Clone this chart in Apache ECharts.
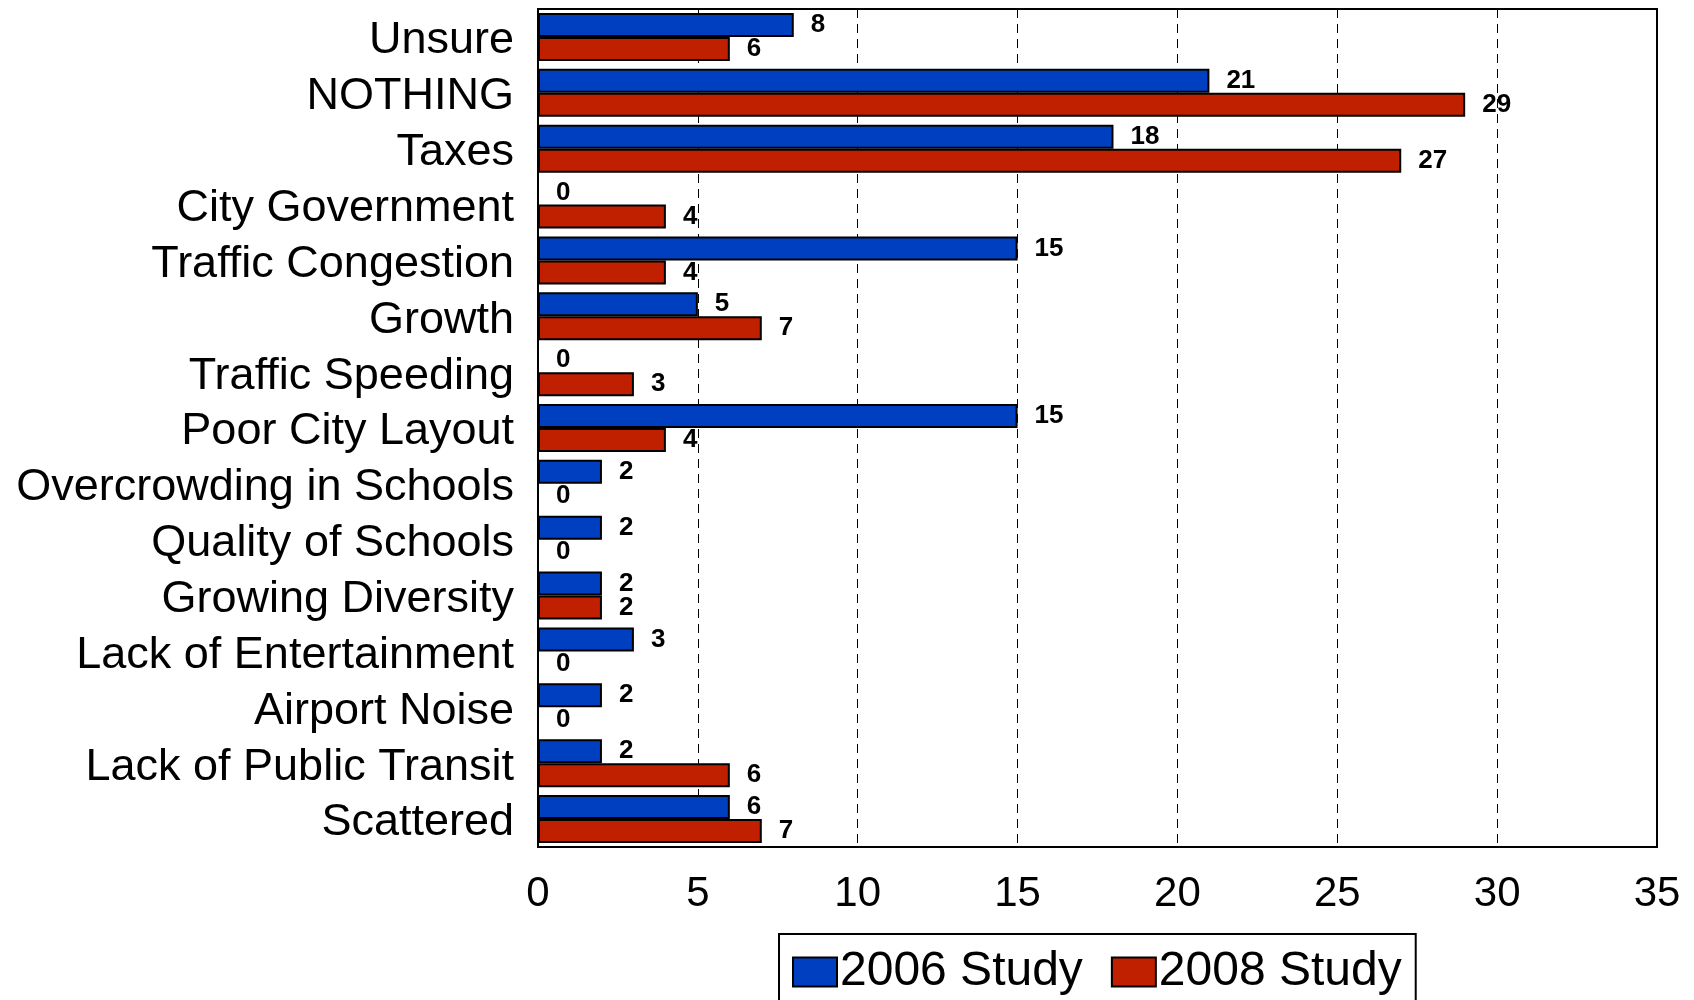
<!DOCTYPE html>
<html><head><meta charset="utf-8">
<script src="https://cdn.jsdelivr.net/npm/echarts@6/dist/echarts.min.js"></script>
<style>html,body{margin:0;padding:0;background:#fff}#c{width:1694px;height:1000px}</style>
</head><body><div id="c"></div>
<script>
const categories = ["Unsure","NOTHING","Taxes","City Government","Traffic Congestion","Growth","Traffic Speeding","Poor City Layout","Overcrowding in Schools","Quality of Schools","Growing Diversity","Lack of Entertainment","Airport Noise","Lack of Public Transit","Scattered"];
const study2006 = [8,21,18,0,15,5,0,15,2,2,2,3,2,2,6];
const study2008 = [6,29,27,4,4,7,3,4,0,0,2,0,0,6,7];
const seriesNames = ["2006 Study","2008 Study"];
const xTicks = {min:0, max:35, interval:5};

const font = '"Liberation Sans", Arial, sans-serif';
const chart = echarts.init(document.getElementById('c'), null, {renderer:'canvas'});
function mk(name, data, color){
  return {
    name, type:'bar', data,
    barGap:'0%', barCategoryGap:'14%',
    itemStyle:{color, borderColor:'#000', borderWidth:2},
    label:{show:true, position:'right', distance:17, color:'#000', fontFamily:font, fontWeight:'bold', fontSize:26},
    emphasis:{disabled:true}
  };
}
chart.setOption({
  animation:false,
  textStyle:{fontFamily:font},
  grid:{left:538, right:37, top:9, bottom:153, show:true, borderColor:'#000', borderWidth:2, containLabel:false},
  legend:{
    data:seriesNames, left:779, top:934,
    itemWidth:44, itemHeight:29, itemGap:28,
    padding:[14,14,10,13],
    borderColor:'#000', borderWidth:2,
    textStyle:{fontSize:48, color:'#000', fontFamily:font, padding:[2,0,0,-2]},
    icon:'rect',
    itemStyle:{borderColor:'#000', borderWidth:2}
  },
  xAxis:{
    type:'value', min:xTicks.min, max:xTicks.max, interval:xTicks.interval,
    axisLine:{show:true, lineStyle:{color:'#000', width:2}},
    axisTick:{show:false},
    axisLabel:{fontSize:42, color:'#000', margin:26, fontFamily:font},
    splitLine:{show:true, lineStyle:{color:'#000', width:1, type:[9,6]}}
  },
  yAxis:{
    type:'category', data:categories, inverse:true,
    axisLine:{show:true, lineStyle:{color:'#000', width:2}},
    axisTick:{show:false},
    axisLabel:{interval:0, fontSize:45, color:'#000', margin:24, fontFamily:font, verticalAlign:'top', lineHeight:8}
  },
  series:[mk(seriesNames[0], study2006, '#0040C0'), mk(seriesNames[1], study2008, '#C02000')]
});
</script></body></html>
